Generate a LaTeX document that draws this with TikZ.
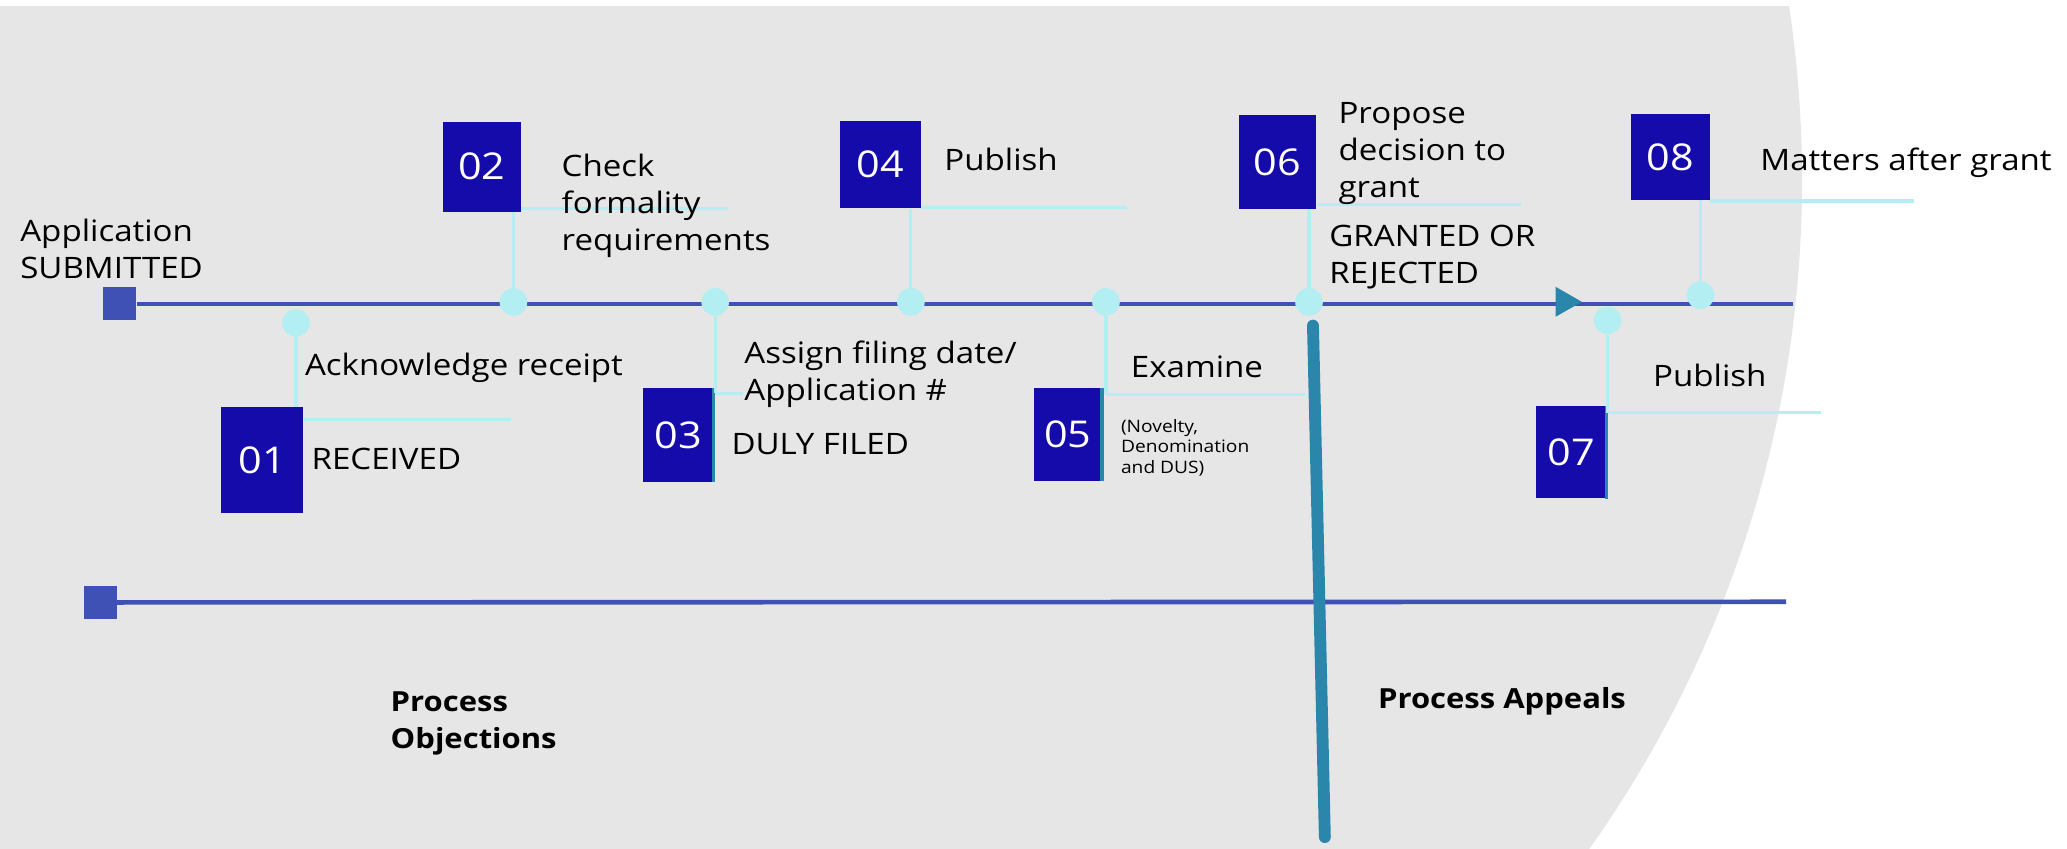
\documentclass[tikz,border=0pt]{standalone}
\usepackage{fontspec}
\setmainfont{Open Sans}[FakeStretch=1.12]
\usetikzlibrary{positioning, calc}
\definecolor{panelgray}{HTML}{E6E6E6}
\definecolor{lineblue}{HTML}{3F51B5}
\definecolor{boxblue}{HTML}{150AAA}
\definecolor{dotcyan}{HTML}{B3EEF2}
\definecolor{barteal}{HTML}{2B86AB}

\begin{document}
\begin{tikzpicture}[x=0.5pt, y=-0.5pt,
    dot/.style={circle, fill=dotcyan, minimum size=10.5pt, inner sep=0pt},
    numbox/.style 2 args={rectangle, fill=boxblue, text=white, minimum width=#1, minimum height=#2, inner sep=0pt, font=\fontsize{14}{16}\selectfont},
    endsq/.style={rectangle, fill=lineblue, minimum size=12.5pt, inner sep=0pt},
    lbl/.style={anchor=base west, inner sep=0pt, align=left, font=\fontsize{11.2}{14}\selectfont},
    note/.style={anchor=base west, inner sep=0pt, align=left, font=\fontsize{6.5}{7.75}\selectfont},
    head/.style={anchor=base west, inner sep=0pt, align=left, font=\bfseries\fontsize{10.5}{14}\selectfont},
    link/.style={dotcyan, line width=1.2pt},
    track/.style={lineblue, line width=1.75pt}
]
\useasboundingbox (0,0) rectangle (1568,644);

% grey panel with round right side
\begin{scope}
\clip (0,5) rectangle (1568,644);
\fill[panelgray] (489,136.6) circle (878);
\end{scope}

% the two tracks
\node[endsq] (sq1) at (91,230.5) {};
\coordinate (end1) at (1360,230.5);
\draw[track] (sq1) -- (end1);
\node[endsq] (sq2) at (76,457) {};
\coordinate (end2) at (1355,456.5);
\draw[track] (sq2) -- (end2);
\fill[barteal] (1180,217.5) -- (1200,229) -- (1180,240.3) -- cycle;

% appeal bar
\coordinate (bartop) at (996,247);
\coordinate (barbot) at (1005,635);
\draw[barteal, line width=4.5pt, line cap=round] (bartop) -- (barbot);

% dots on the track
\node[dot] (d1) at (224.5,245) {};
\node[dot] (d2) at (389.5,229) {};
\node[dot] (d3) at (542.5,229) {};
\node[dot] (d4) at (691,229) {};
\node[dot] (d5) at (839,229) {};
\node[dot] (d6) at (993,229) {};
\node[dot] (d7) at (1219.5,243) {};
\node[dot] (d8) at (1290,224) {};

% numbered boxes
\node[numbox={31pt}{40pt}] (b1) at (199,349) {01};
\node[numbox={29.5pt}{34pt}] (b2) at (365.5,126.5) {02};
\node[numbox={26.5pt}{35.5pt}] (b3) at (514.5,330) {03};
\node[numbox={30.5pt}{33pt}] (b4) at (668,125) {04};
\node[numbox={25.5pt}{35pt}] (b5) at (810,329.5) {05};
\node[numbox={29.5pt}{35.5pt}] (b6) at (969,123) {06};
\node[numbox={26.5pt}{35pt}] (b7) at (1192,343) {07};
\node[numbox={30pt}{32.5pt}] (b8) at (1267,119) {08};
\draw[barteal, line width=1.2pt] (b3.north east) -- (b3.south east);
\draw[barteal, line width=1.2pt] (b5.north east) -- (b5.south east);
\draw[barteal, line width=1.2pt] (b7.north east) -- (b7.south east);

% connectors
\coordinate (h1) at (388,318);
\coordinate (h2) at (552,158);
\coordinate (h3) at (564,298.4);
\coordinate (h4) at (855,157.6);
\coordinate (h5) at (990,299);
\coordinate (h6) at (1154,155);
\coordinate (h7) at (1381,313);
\coordinate (h8) at (1452,152.5);
\draw[link] (d1) -- (d1 |- b1.north);
\draw[link] (d2) -- (d2 |- b2.south);
\draw[link] (d3) -- (d3 |- h3);
\draw[link] (d4) -- (d4 |- b4.south);
\draw[link] (d5) -- (d5 |- h5);
\draw[link] (d6) -- (d6 |- b6.south);
\draw[link] (d7) -- (d7 |- h7);
\draw[link] (d8) -- (d8 |- b8.south);
\draw[link] (b1.east |- h1) -- (h1);
\draw[link] (b2.east |- h2) -- (h2);
\draw[link] (d3 |- h3) -- (h3);
\draw[link] (b4.east |- h4) -- (h4);
\draw[link] (d5 |- h5) -- (h5);
\draw[link] (b6.east |- h6) -- (h6);
\draw[link] (d7 |- h7) -- (h7);
\draw[link] (b8.east |- h8) -- (h8);

% texts (base of the last line)
\node[lbl] (tsub) at (15,211) {Application\\SUBMITTED};
\node[lbl] (tack) at (231,284.5) {Acknowledge receipt};
\node[lbl] (trec) at (236,356.5) {RECEIVED};
\node[lbl] (tchk) at (425.7,190) {Check\\formality\\requirements};
\node[lbl] (tasg) at (564.3,304) {Assign filing date/\\Application \#};
\node[lbl] (tdul) at (554.5,345) {DULY FILED};
\node[lbl] (tpub) at (716,129.5) {Publish};
\node[lbl] (texa) at (857.5,286.5) {Examine};
\node[note] (tnov) at (850,359) {(Novelty,\\Denomination\\and DUS)};
\node[lbl] (tpro) at (1015,150) {Propose\\decision to\\grant};
\node[lbl] (tgra) at (1008,215) {GRANTED OR\\REJECTED};
\node[lbl] (tpub2) at (1253.7,293.4) {Publish};
\node[lbl] (tmat) at (1335,129) {Matters after grant};
\node[head] (tobj) at (296,568) {Process\\Objections};
\node[head] (tapp) at (1045,537.3) {Process Appeals};
\end{tikzpicture}
\end{document}
